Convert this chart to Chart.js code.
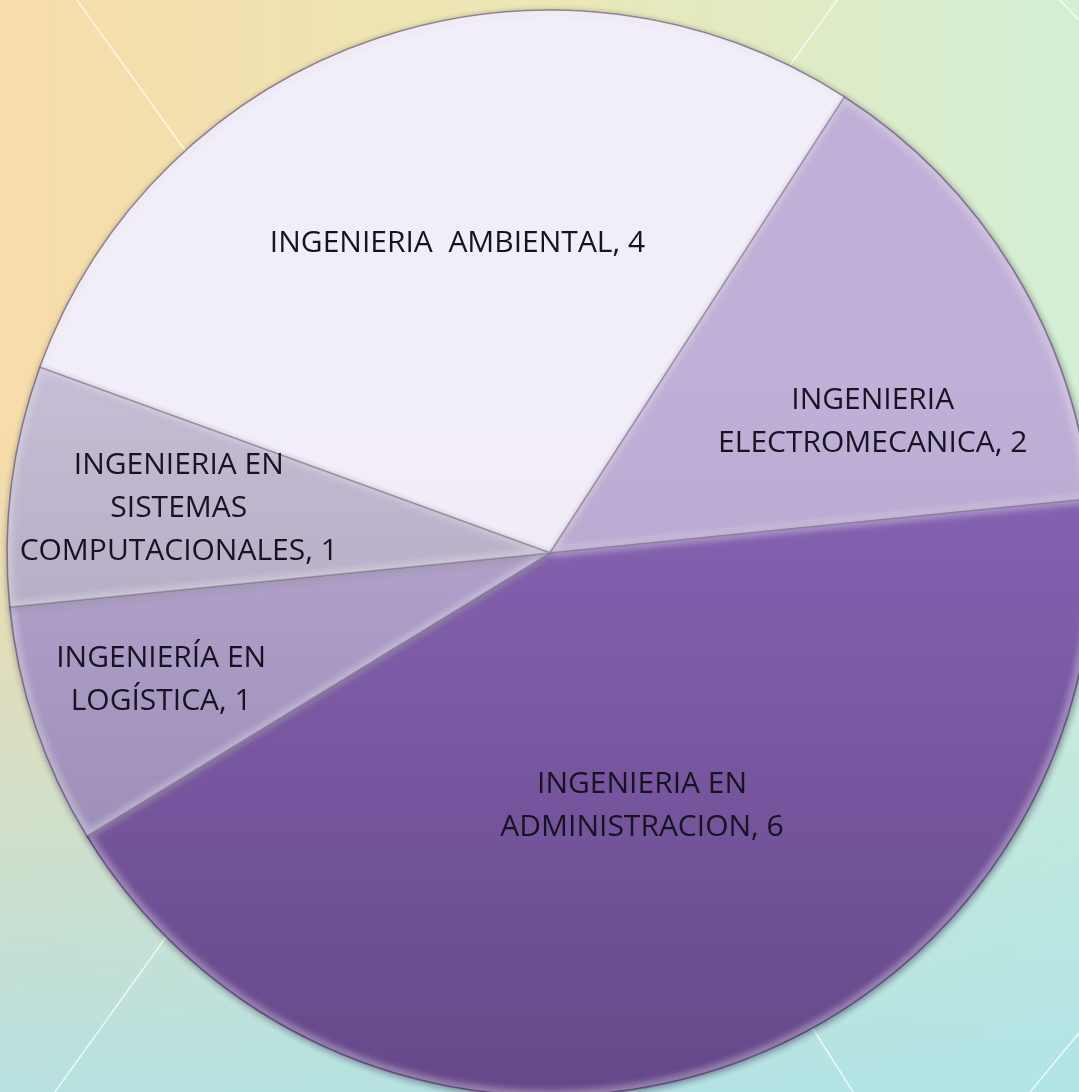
<!DOCTYPE html>
<html>
<head>
<meta charset="utf-8">
<script src="https://cdn.jsdelivr.net/npm/chart.js@4.4.0/dist/chart.umd.min.js"></script>
<style>
  html, body {
    margin: 0;
    padding: 0;
    width: 1079px;
    height: 1092px;
    overflow: hidden;
  }
  body {
    position: relative;
    background:
      linear-gradient(to bottom, rgba(172, 224, 236, 0) 40%, rgba(172, 226, 234, 0.85) 100%),
      linear-gradient(to right, #f6dca8 0%, #ebe7b6 50%, #d2efd4 100%);
  }
  #bgLines {
    position: absolute;
    left: 0;
    top: 0;
  }
  #chartBox {
    position: absolute;
    left: 0;
    top: 0;
    width: 1079px;
    height: 1092px;
  }
</style>
</head>
<body>
  <svg id="bgLines" width="1079" height="1092">
    <g stroke="rgba(255,255,255,0.75)" stroke-width="1.5" fill="none">
      <line x1="77" y1="0" x2="400" y2="450" />
      <line x1="837" y1="0" x2="700" y2="190" />
      <line x1="1060" y1="0" x2="1079" y2="20" />
      <line x1="55" y1="1092" x2="300" y2="750" />
      <line x1="853" y1="1092" x2="700" y2="850" />
      <line x1="1030" y1="1092" x2="1079" y2="1033" />
    </g>
  </svg>
  <div id="chartBox">
    <canvas id="pieChart"></canvas>
  </div>

<script>
// chart data
const categories = [
  "INGENIERIA  AMBIENTAL",
  "INGENIERIA ELECTROMECANICA",
  "INGENIERIA EN ADMINISTRACION",
  "INGENIERÍA EN LOGÍSTICA",
  "INGENIERIA EN SISTEMAS COMPUTACIONALES",
];
const values = [4, 2, 6, 1, 1];

// how each label is broken into lines
const labelLines = [
  ["INGENIERIA  AMBIENTAL, 4"],
  ["INGENIERIA", "ELECTROMECANICA, 2"],
  ["INGENIERIA EN", "ADMINISTRACION, 6"],
  ["INGENIERÍA EN", "LOGÍSTICA, 1"],
  ["INGENIERIA EN", "SISTEMAS", "COMPUTACIONALES, 1"],
];

// label placement inside each slice: fraction of the slice angle, fraction of the radius
const labelAngleFrac = [0.52, 0.675, 0.49, 0.53, 0.5];
const labelRadiusFrac = [0.599, 0.643, 0.493, 0.752, 0.689];

// slice colours (top / bottom of a vertical gradient)
const sliceTop = ["#f2eef9", "#c0afd7", "#8b67b9", "#bbabd6", "#c4bdd4"];
const sliceBottom = ["#ece7f4", "#ad9cc6", "#664889", "#8e80a8", "#9a92ab"];

function sliceColor(context) {
  const chart = context.chart;
  const i = context.dataIndex;
  if (!chart.chartArea) return sliceTop[i];
  const g = chart.ctx.createLinearGradient(0, 380, 0, 1092);
  g.addColorStop(0, sliceTop[i]);
  g.addColorStop(1, sliceBottom[i]);
  return g;
}

const shadowPlugin = {
  id: "pieShadow",
  beforeDatasetsDraw(chart) {
    const ctx = chart.ctx;
    ctx.save();
    ctx.shadowColor = "rgba(40, 20, 60, 0.45)";
    ctx.shadowBlur = 7;
    ctx.shadowOffsetX = 1;
    ctx.shadowOffsetY = 2;
  },
  afterDatasetsDraw(chart) {
    chart.ctx.restore();
  },
};

// soft light rim inside each slice, like the bevel of the original
const bevelPlugin = {
  id: "sliceBevel",
  afterDatasetsDraw(chart) {
    const ctx = chart.ctx;
    const arcs = chart.getDatasetMeta(0).data;
    arcs.forEach((arc) => {
      const p = arc.getProps(["x", "y", "startAngle", "endAngle", "outerRadius"], true);
      ctx.save();
      ctx.beginPath();
      ctx.moveTo(p.x, p.y);
      ctx.arc(p.x, p.y, p.outerRadius - 1, p.startAngle, p.endAngle);
      ctx.closePath();
      ctx.clip();
      ctx.filter = "blur(3px)";
      ctx.lineWidth = 9;
      ctx.strokeStyle = "rgba(255, 255, 255, 0.35)";
      ctx.stroke();
      ctx.restore();
    });
  },
};

const labelPlugin = {
  id: "sliceLabels",
  afterDraw(chart) {
    const ctx = chart.ctx;
    const arcs = chart.getDatasetMeta(0).data;
    ctx.save();
    ctx.font = "30px 'Open Sans'";
    ctx.fillStyle = "#161420";
    ctx.textAlign = "center";
    ctx.textBaseline = "middle";
    const lineH = 43;
    arcs.forEach((arc, i) => {
      const p = arc.getProps(["x", "y", "startAngle", "endAngle", "outerRadius"], true);
      const a = p.startAngle + labelAngleFrac[i] * (p.endAngle - p.startAngle);
      const r = labelRadiusFrac[i] * p.outerRadius;
      const cx = p.x + Math.cos(a) * r;
      const cy = p.y + Math.sin(a) * r + 2;
      const lines = labelLines[i];
      lines.forEach((line, k) => {
        ctx.fillText(line, cx, cy + (k - (lines.length - 1) / 2) * lineH);
      });
    });
    ctx.restore();
  },
};

const ctx = document.getElementById("pieChart").getContext("2d");

new Chart(ctx, {
  type: "pie",
  data: {
    labels: categories,
    datasets: [
      {
        data: values,
        backgroundColor: sliceColor,
        borderColor: "rgba(80, 68, 100, 0.55)",
        borderWidth: 1.5,
        hoverOffset: 0,
        radius: 543,
        rotation: -70,
        clip: false,
      },
    ],
  },
  options: {
    responsive: true,
    maintainAspectRatio: false,
    animation: false,
    events: [],
    layout: {
      padding: { left: 21, top: 14, right: 0, bottom: 0 },
    },
    plugins: {
      legend: { display: false },
      tooltip: { enabled: false },
    },
  },
  plugins: [shadowPlugin, bevelPlugin, labelPlugin],
});
</script>
</body>
</html>
